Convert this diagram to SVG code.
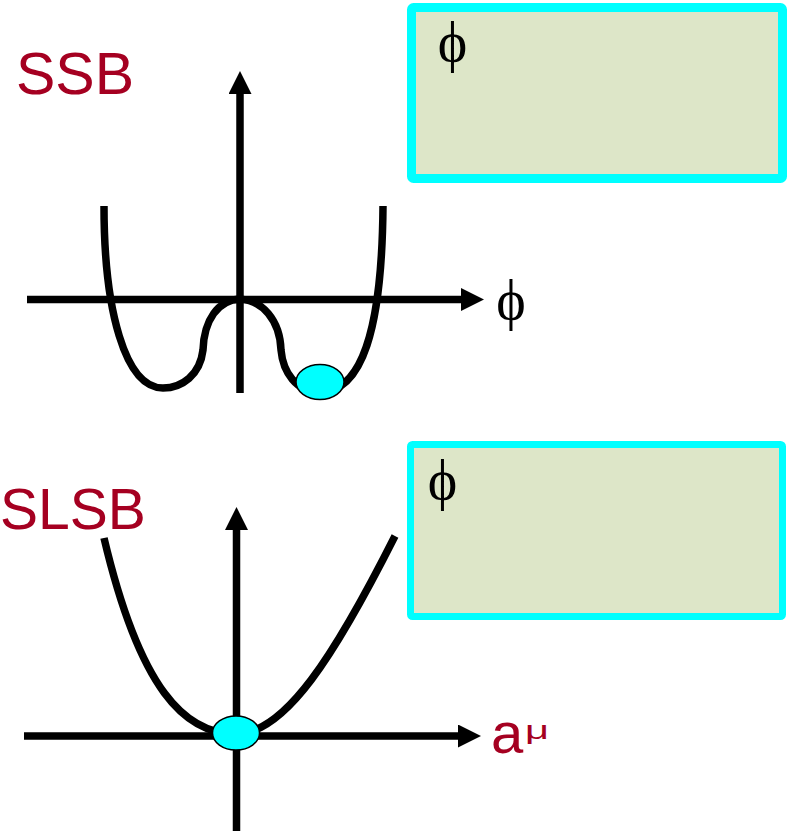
<svg xmlns="http://www.w3.org/2000/svg" width="788" height="831" viewBox="0 0 788 831">
<style>
.lbl{font-family:"Liberation Sans",Arial,sans-serif;fill:#A50021}
.phi{font-family:"Liberation Serif","Times New Roman",serif;fill:#000;text-anchor:middle}
.box{fill:#DDE6C8;stroke:#00FFFF;stroke-linejoin:round}
.axis{stroke:#000;stroke-width:7.5;fill:none}
.curve{stroke:#000;stroke-width:7.5;fill:none;stroke-linejoin:round}
.dot{fill:#00FFFF;stroke:#000;stroke-width:1.5}
</style>
<defs>
<marker id="arr" viewBox="0 0 23 23" markerWidth="23" markerHeight="23" refX="0" refY="11.5" orient="auto" markerUnits="userSpaceOnUse">
<path d="M0,0 L23,11.5 L0,23 z" fill="#000"/>
</marker>
</defs>
<rect width="788" height="831" fill="#fff"/>

<g id="box-top">
<rect class="box" x="411.5" y="7.5" width="371" height="171" rx="2" stroke-width="9"/>
<text class="phi" x="452.5" y="61" font-size="56">ϕ</text>
</g>
<g id="box-bottom">
<rect class="box" x="410.5" y="444.5" width="372" height="172" rx="2" stroke-width="7"/>
<text class="phi" x="442.5" y="499" font-size="56">ϕ</text>
</g>

<g id="ssb-label">
<text class="lbl" x="16" y="94" font-size="59">SSB</text>
</g>
<g id="slsb-label">
<text class="lbl" x="0" y="529" font-size="57">SLSB</text>
</g>

<g id="connectors">
<line class="axis" x1="240" y1="393" x2="240" y2="94" marker-end="url(#arr)"/>
<line class="axis" x1="27" y1="299.5" x2="461" y2="299.5" marker-end="url(#arr)"/>
<line class="axis" x1="236.5" y1="831" x2="236.5" y2="530" marker-end="url(#arr)"/>
<line class="axis" x1="24" y1="736" x2="458" y2="736" marker-end="url(#arr)"/>
</g>

<g id="ssb-plot">
<path class="curve" d="M104,206 C104,310 125,388 163,388 C182,388 200,375 203,350 C204,320 218,300 240,299 C262,300 280,320 281,350 C283,372 296,392 320,392 C362,392 382,330 383,206"/>
<ellipse class="dot" cx="320" cy="382" rx="24" ry="17.5"/>
<text class="phi" x="511" y="319" font-size="56">ϕ</text>
</g>

<g id="slsb-plot">
<path class="curve" d="M104,538 C140,690 185,734 236,734 C285,734 335,655 395,536"/>
<ellipse class="dot" cx="236" cy="733" rx="23.5" ry="17"/>
<text class="lbl" x="491" y="753" font-size="58">a</text>
<text class="lbl" x="525" y="739" font-size="25" textLength="24" lengthAdjust="spacingAndGlyphs">μ</text>
</g>
</svg>
